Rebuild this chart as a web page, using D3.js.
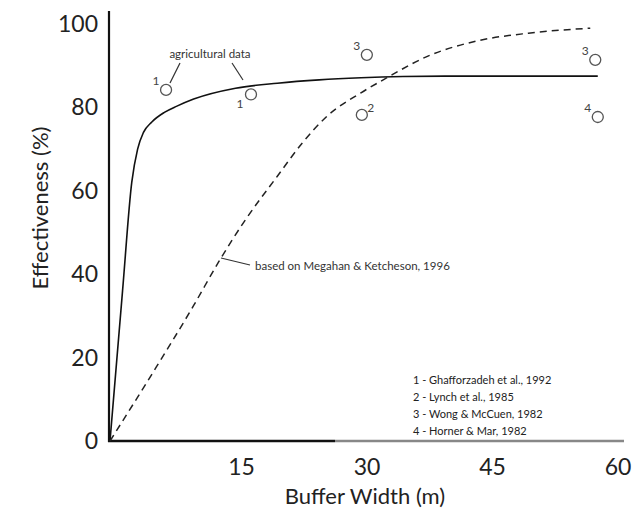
<!DOCTYPE html>
<html><head><meta charset="utf-8">
<script src="https://cdn.jsdelivr.net/npm/d3@7"></script>
<style>
html,body{margin:0;padding:0;background:#fff;}
svg{display:block;}
text{font-family:"Lato","DejaVu Sans",sans-serif;}
</style></head>
<body>
<svg id="c" width="632" height="519"></svg>
<script>
// ---- data ----
const xTicks = [15, 30, 45, 60];
const yTicks = [0, 20, 40, 60, 80, 100];
const solidX = [0, 1.5, 2.6, 3.3, 4, 5, 6.5, 8, 10, 15, 20, 25, 30, 35, 40, 58.3];
const solidY = [0, 36, 62, 70, 74, 76.5, 78.8, 80.3, 82, 84.6, 85.8, 86.6, 87.1, 87.4, 87.5, 87.5];
const dashX = [0, 5, 10, 13, 16, 20, 23, 26, 30, 33, 38, 44, 50, 57.4];
const dashY = [0, 16, 32.5, 43, 52.5, 63.5, 71.5, 78, 83.5, 87, 92.3, 96, 97.8, 99];
const ptX = [6.7, 16.85, 30.7, 30.1, 58, 58.3];
const ptY = [84.2, 83.1, 92.6, 78.2, 91.4, 77.7];
const ptLabel = ["1", "1", "3", "2", "3", "4"];
const ptLabelPos = ["ul", "bl", "ul", "ur", "ul", "ul"];
const legendItems = ["1 - Ghafforzadeh et al., 1992", "2 - Lynch et al., 1985", "3 - Wong & McCuen, 1982", "4 - Horner & Mar, 1982"];

// ---- scales ----
const svg = d3.select("#c");
const x = d3.scaleLinear().domain([0, 60]).range([110, 612]);
const y = d3.scaleLinear().domain([0, 100]).range([441, 24]);

// axes lines
svg.append("line").attr("x1", 109).attr("x2", 109).attr("y1", 11).attr("y2", 442)
  .attr("stroke", "#111").attr("stroke-width", 2.2);
svg.append("line").attr("x1", 108).attr("x2", 335).attr("y1", 441).attr("y2", 441)
  .attr("stroke", "#111").attr("stroke-width", 2.6);
svg.append("line").attr("x1", 335).attr("x2", 624).attr("y1", 441).attr("y2", 441)
  .attr("stroke", "#888").attr("stroke-width", 2.6);

// tick labels
svg.selectAll(".xt").data(xTicks).join("text").attr("class", "xt")
  .attr("x", d => x(d) + 6).attr("y", 475).attr("text-anchor", "middle")
  .attr("font-size", 23).attr("fill", "#222").text(d => d);
svg.selectAll(".yt").data(yTicks).join("text").attr("class", "yt")
  .attr("x", 98).attr("y", d => y(d) + 8).attr("text-anchor", "end")
  .attr("font-size", 23).attr("fill", "#222").text(d => d);

// axis titles
svg.append("text").attr("transform", "translate(48,208) rotate(-90)")
  .attr("text-anchor", "middle").attr("font-size", 22).attr("fill", "#222")
  .text("Effectiveness (%)");
svg.append("text").attr("x", 365).attr("y", 504).attr("text-anchor", "middle")
  .attr("font-size", 22).attr("fill", "#222").text("Buffer Width (m)");

// curves
const line = d3.line().x(d => x(d[0])).y(d => y(d[1])).curve(d3.curveMonotoneX);
svg.append("path").attr("d", line(solidX.map((v, i) => [v, solidY[i]])))
  .attr("fill", "none").attr("stroke", "#111").attr("stroke-width", 1.6);
svg.append("path").attr("d", line(dashX.map((v, i) => [v, dashY[i]])))
  .attr("fill", "none").attr("stroke", "#222").attr("stroke-width", 1.5)
  .attr("stroke-dasharray", "7,5");

// points
const pts = ptX.map((v, i) => ({x: v, y: ptY[i], l: ptLabel[i], p: ptLabelPos[i]}));
svg.selectAll(".pt").data(pts).join("circle").attr("class", "pt")
  .attr("cx", d => x(d.x)).attr("cy", d => y(d.y)).attr("r", 5.5)
  .attr("fill", "none").attr("stroke", "#555").attr("stroke-width", 1.3);
const off = {ul: [-10, -5], bl: [-11, 14], ur: [9, -3]};
svg.selectAll(".pl").data(pts).join("text").attr("class", "pl")
  .attr("x", d => x(d.x) + off[d.p][0]).attr("y", d => y(d.y) + off[d.p][1])
  .attr("text-anchor", "middle").attr("font-size", 12).attr("fill", "#444").text(d => d.l);

// annotations
svg.append("text").attr("x", 210).attr("y", 58).attr("text-anchor", "middle")
  .attr("font-size", 11.5).attr("fill", "#333").text("agricultural data");
svg.append("line").attr("x1", 180).attr("y1", 63).attr("x2", 170).attr("y2", 83)
  .attr("stroke", "#333").attr("stroke-width", 1.2);
svg.append("line").attr("x1", 232).attr("y1", 63).attr("x2", 243).attr("y2", 80)
  .attr("stroke", "#333").attr("stroke-width", 1.2);
svg.append("line").attr("x1", 221).attr("y1", 258).attr("x2", 250).attr("y2", 265)
  .attr("stroke", "#333").attr("stroke-width", 1.2);
svg.append("text").attr("x", 255).attr("y", 270).attr("font-size", 11.5).attr("fill", "#333")
  .text("based on Megahan & Ketcheson, 1996");

// legend
svg.selectAll(".lg").data(legendItems).join("text").attr("class", "lg")
  .attr("x", 413).attr("y", (d, i) => 384 + i * 17).attr("font-size", 11).attr("fill", "#222")
  .text(d => d);
</script>
</body></html>
